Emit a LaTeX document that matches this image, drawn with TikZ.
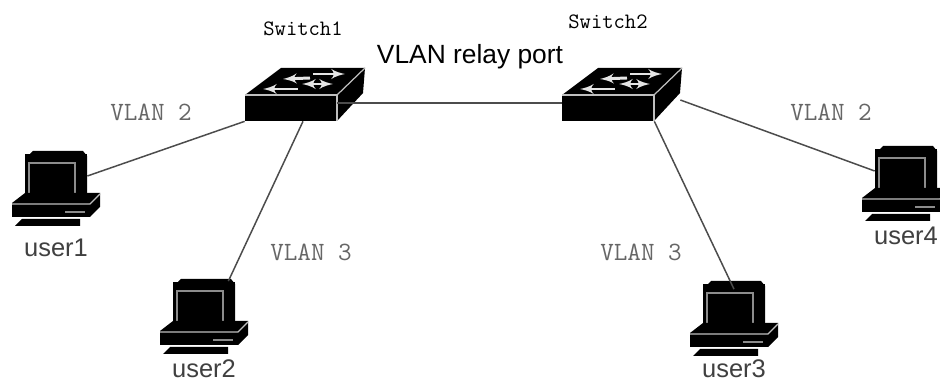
\documentclass[tikz,border=0pt]{standalone}
\usepackage{fontspec}
\setmainfont{Liberation Sans}
\usetikzlibrary{arrows}
\newfontfamily\vlanfont{Latin Modern Mono}
\tikzstyle{line} = [draw, black!70, line width=0.85pt]
\tikzstyle{iconbox} = [rectangle, fill=black, inner sep=0pt]
\tikzstyle{edgeline} = [draw=black!25, line width=0.7pt]
\tikzstyle{userlabel} = [font=\fontsize{14.5}{16}\selectfont, text=black!75]
\tikzstyle{vlanlabel} = [font=\vlanfont\fontsize{15}{16}\selectfont, text=black!60]
\tikzstyle{switchlabel} = [font=\vlanfont\bfseries\fontsize{12.5}{14}\selectfont]
\tikzset{
	switchicon/.pic={
		\fill [black] (-46,-13) -- (-10,-40) -- (74,-40) -- (46,-13) -- cycle;
		\fill [black] (46,-13) -- (74,-40) -- (72,-15) -- (46,13) -- cycle;
		\node [iconbox, minimum width=1.84cm, minimum height=0.52cm] (box) at (0,0) {};
		\draw [edgeline] (-46,-13) -- (46,-13) -- (46,13);
		\draw [edgeline] (46,-13) -- (74,-40);
		\draw [black!10, line width=1.7pt, latex'-] (-28,-19) -- (7,-19);
		\draw [black!10, line width=1.7pt, latex'-latex'] (11,-24) -- (42,-24);
		\draw [black!10, line width=1.7pt, latex'-] (-8,-29) -- (19,-30);
		\draw [black!10, line width=1.7pt, -latex'] (22,-34) -- (54,-34);
	},
	pcicon/.pic={
		% monitor
		\node [iconbox, minimum width=1.24cm, minimum height=0.9cm] (box) at (0,0) {};
		\fill [black] (-26,-22) -- (-23,-25) -- (27,-25) -- (31,-20) -- (31,22) -- (-26,22) -- cycle;
		\draw [draw=black!45, line width=1.6pt] (-27,-13) rectangle (19,19);
		% base
		\fill [black] (-44,27) -- (-31,17) -- (44,17) -- (34,28) -- (34,41) -- (-44,41) -- cycle;
		\fill [black] (34,28) -- (44,17) -- (44,31) -- (34,41) -- cycle;
		\draw [edgeline] (-44,28) -- (34,28) -- (44,18);
		\draw [black!45, line width=1.3pt] (9,36) -- (29,36);
		% keyboard
		\fill [black] (-34,43) -- (24,43) -- (24,50) -- (-41,50) -- cycle;
	}
}

\begin{document}
\begin{tikzpicture}[x=0.02cm, y=-0.02cm, node distance=1.3cm]

	\useasboundingbox (0,0) rectangle (940,381);

	\pic (switch1) at (291,108) {switchicon};
	\pic (switch2) at (608,108) {switchicon};

	\pic (pc1) at (56,176) {pcicon};
	\pic (pc2) at (204,304) {pcicon};
	\pic (pc3) at (734,306) {pcicon};
	\pic (pc4) at (906,171) {pcicon};

	\node [userlabel, below of=pc1box, node distance=1.44cm] (user1) {user1};
	\node [userlabel, below of=pc2box] (user2) {user2};
	\node [userlabel, below of=pc3box, node distance=1.26cm] (user3) {user3};
	\node [userlabel, below of=pc4box] (user4) {user4};

	\path [line] (pc1box.east) -- (switch1box.south west);
	\path [line] ([xshift=-0.14cm]pc2box.north east) -- ([xshift=0.24cm]switch1box.south);
	\path [line] (switch1box.east) ++(0,-5) -- (switch2box.west |- 0,103);
	\path [line] (switch2box.south east) -- ([yshift=-0.12cm]pc3box.north);
	\path [line] (switch2box.east) ++(26,-8) -- (pc4box.west);

	\node [switchlabel] (name1) at (303,29) {Switch1};
	\node [switchlabel] (name2) at (608,22) {Switch2};
	\node [userlabel, text=black, font=\fontsize{15}{16}\selectfont] (relay) at (470,57) {VLAN relay port};

	\node [vlanlabel] (vlan2a) at (151,112) {VLAN 2};
	\node [vlanlabel] (vlan3a) at (311,252) {VLAN 3};
	\node [vlanlabel] (vlan3b) at (641,252) {VLAN 3};
	\node [vlanlabel] (vlan2b) at (831,112) {VLAN 2};

\end{tikzpicture}
\end{document}
